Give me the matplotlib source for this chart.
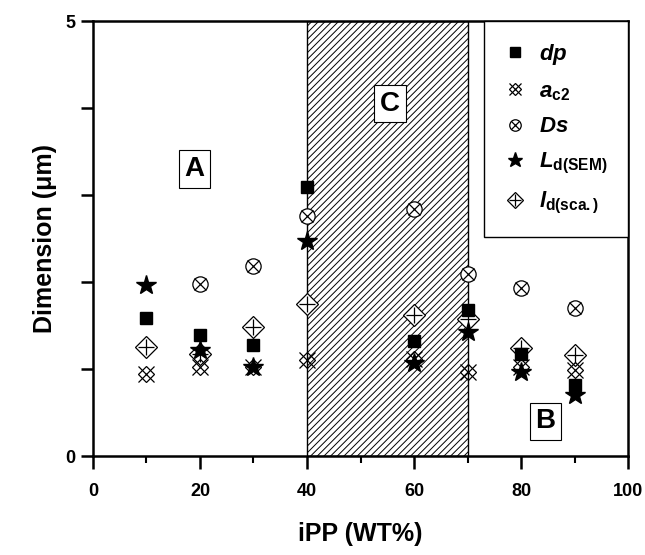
import matplotlib
matplotlib.use("Agg")
import matplotlib.pyplot as plt
from matplotlib.legend_handler import HandlerTuple

plt.rcParams['font.family'] = ['Liberation Sans', 'DejaVu Sans']
plt.rcParams['font.weight'] = 'bold'
plt.rcParams['mathtext.fontset'] = 'custom'
plt.rcParams['mathtext.rm'] = 'Liberation Sans:bold'
plt.rcParams['mathtext.it'] = 'Liberation Sans:bold:italic'
plt.rcParams['mathtext.bf'] = 'Liberation Sans:bold'
plt.rcParams['hatch.linewidth'] = 0.7

# datos
ipp = [10, 20, 30, 40, 60, 70, 80, 90]
dp = [1.59, 1.39, 1.28, 3.09, 1.32, 1.68, 1.18, 0.82]
ac2 = [0.94, 1.03, 1.02, 1.10, 1.12, 0.97, 1.02, 0.99]
ipp_ds = [20, 30, 40, 60, 70, 80, 90]
ds = [1.98, 2.18, 2.76, 2.84, 2.09, 1.93, 1.70]
ld_sem = [1.97, 1.22, 1.02, 2.47, 1.07, 1.43, 0.97, 0.70]
ld_sca = [1.25, 1.18, 1.49, 1.75, 1.62, 1.58, 1.24, 1.16]

zona_c = (40, 70)

fig = plt.figure(figsize=(6.45, 5.55), dpi=100)
ax = fig.add_axes([0.144, 0.178, 0.830, 0.784])

# zona sombreada C
ax.axvspan(zona_c[0], zona_c[1], facecolor='white', edgecolor='black',
           hatch='/////', linewidth=1.0, zorder=0)

ms = 11
h1, = ax.plot(ipp, dp, 's', color='black', ms=9, ls='none', zorder=5)
h2a, = ax.plot(ipp, ac2, 'x', color='black', ms=ms, mew=0.9, ls='none', zorder=4)
h2b, = ax.plot(ipp, ac2, 'D', mfc='none', mec='black', ms=8, mew=0.9, ls='none', zorder=4)
h3a, = ax.plot(ipp_ds, ds, 'o', mfc='white', mec='black', ms=ms, mew=0.9, ls='none', zorder=4)
h3b, = ax.plot(ipp_ds, ds, 'x', color='black', ms=8, mew=0.9, ls='none', zorder=4)
h4, = ax.plot(ipp, ld_sem, '*', color='black', ms=15, ls='none', zorder=5)
h5a, = ax.plot(ipp, ld_sca, 'D', mfc='white', mec='black', ms=ms, mew=0.9, ls='none', zorder=3)
h5b, = ax.plot(ipp, ld_sca, '+', color='black', ms=ms, mew=0.9, ls='none', zorder=3)

leg = ax.legend([h1, (h2a, h2b), (h3a, h3b), h4, (h5a, h5b)],
                [r'$dp$', r'$a_{\mathrm{c2}}$', r'$Ds$', r'$L_{\mathrm{d(SEM)}}$',
                 r'$l_{\mathrm{d(sca.)}}$'],
                handler_map={tuple: HandlerTuple(ndivide=1, pad=0)},
                loc='upper right', borderaxespad=0, fancybox=False,
                edgecolor='black', framealpha=1, fontsize=16,
                labelspacing=0.62, handletextpad=0.6, borderpad=0.95,
                handlelength=0.9, markerscale=0.75)
leg.get_frame().set_linewidth(1.0)
leg.set_zorder(10)

# etiquetas de zonas
caja = dict(boxstyle='square,pad=0.2', fc='white', ec='black', lw=0.8)
ax.text(19, 3.3, 'A', fontsize=20, fontweight='bold', ha='center', va='center', bbox=caja)
ax.text(55.5, 4.05, 'C', fontsize=20, fontweight='bold', ha='center', va='center', bbox=caja)
ax.text(84.5, 0.4, 'B', fontsize=20, fontweight='bold', ha='center', va='center', bbox=caja)

ax.set_xlim(0, 100)
ax.set_ylim(0, 5)
ax.set_xticks([0, 20, 40, 60, 80, 100])
ax.set_xticks([10, 30, 50, 70, 90], minor=True)
ax.set_yticks([0, 1, 2, 3, 4, 5])
ax.set_yticklabels(['0', '', '', '', '', '5'])
ax.tick_params(axis='both', which='major', direction='out', length=9, width=1.8, labelsize=13)
ax.tick_params(axis='both', which='minor', direction='out', length=5, width=1.5)
ax.tick_params(axis='x', pad=10)
for lbl in ax.get_xticklabels() + ax.get_yticklabels():
    lbl.set_fontweight('bold')
for s in ax.spines.values():
    s.set_linewidth(1.8)

ax.set_xlabel('iPP (WT%)', fontsize=18, fontweight='bold', labelpad=16)
ax.set_ylabel('Dimension (μm)', fontsize=18, fontweight='bold', labelpad=6)

fig.savefig('out.png', dpi=100)
